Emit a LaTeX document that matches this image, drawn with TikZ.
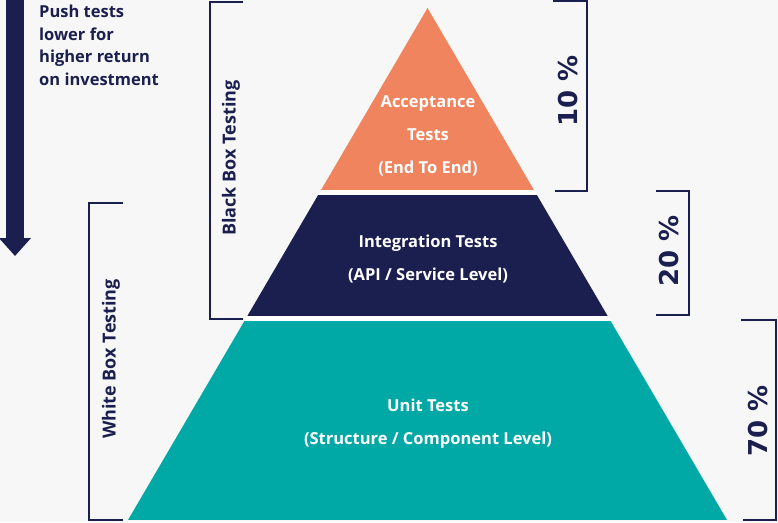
\documentclass[tikz,border=0pt]{standalone}
\usepackage{fontspec}
\setmainfont{Open Sans}
\newfontfamily\pctfont{DejaVu Sans}
\usetikzlibrary{arrows.meta}
\definecolor{navy}{HTML}{1B1F4F}
\definecolor{coral}{HTML}{F0845F}
\definecolor{tealband}{HTML}{00A9A5}
\definecolor{paper}{HTML}{F7F7F7}
\tikzset{
	bandtext/.style = { text=white, font=\bfseries\fontsize{16.5}{33}\selectfont,
	align=center, execute at begin node=\setlength{\baselineskip}{33pt} },
	sidetext/.style = { text=navy, font=\bfseries\fontsize{18}{22}\selectfont, rotate=90 },
	pcttext/.style  = { text=navy, font=\pctfont\bfseries\fontsize{26}{30}\selectfont, rotate=90 },
	bracket/.style  = { draw=navy, line width=2.8pt },
	pusharrow/.style = { draw=navy, line width=18pt, -{Triangle[width=31pt,length=18pt]} },
}

\begin{document}
\begin{tikzpicture}[x=1pt,y=-1pt]
	\useasboundingbox (0,0) rectangle (778,522);
	% background
	\fill[paper] (0,0) rectangle (778,522);
	% pyramid
	\begin{scope}
		\clip (427.5,8) -- (727,520) -- (128,520) -- cycle;
		\fill[white] (0,0) rectangle (778,522);
		\fill[coral] (0,0) rectangle (778,190);
		\fill[navy] (0,195) rectangle (778,316);
		\fill[tealband] (0,321) rectangle (778,520);
	\end{scope}
	\node (acc) [bandtext] at (428,136) {Acceptance\\Tests\\(End To End)};
	\node (int) [bandtext] at (428,259.5) {Integration Tests\\(API / Service Level)};
	\node (unit) [bandtext] at (428,423.5) {Unit Tests\\(Structure / Component Level)};
	% left brackets
	\draw[bracket] (243,2) -| (210,319) -- (243,319);
	\node (black) [sidetext] at (231,158) {Black Box Testing};
	\draw[bracket] (123,203) -| (89,520) -- (123,520);
	\node (white) [sidetext] at (111,359) {White Box Testing};
	% right brackets
	\draw[bracket] (553,1) -| (587,191) -- (555,191);
	\node (p10) [pcttext] at (568,91) {10 \%};
	\draw[bracket] (656,191) -| (689,315) -- (656,315);
	\node (p20) [pcttext] at (669,251) {20 \%};
	\draw[bracket] (741,320) -| (776,520) -- (743,520);
	\node (p70) [pcttext] at (758,421) {70 \%};
	% push arrow
	\coordinate (top) at (15,0);
	\coordinate (tip) at (15,256);
	\draw[pusharrow] (top) -- (tip);
	\node (push) [anchor=north west, text=navy, align=left,
		font=\bfseries\fontsize{16.5}{22.5}\selectfont, inner sep=0pt] at (39,5)
		{Push tests\\lower for\\higher return\\on investment};
\end{tikzpicture}
\end{document}
